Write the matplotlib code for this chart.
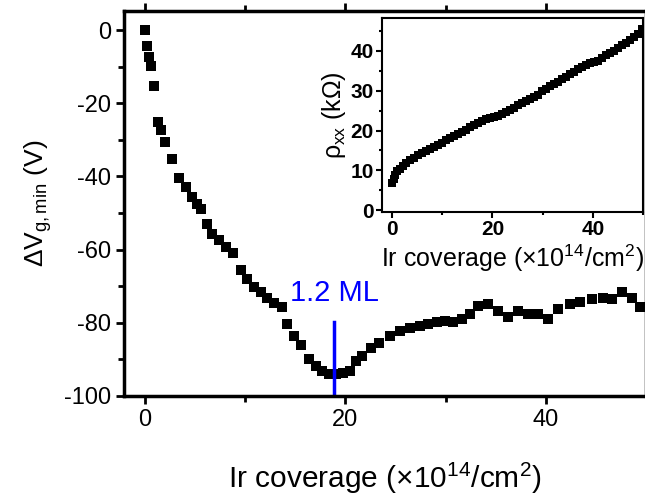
import matplotlib
matplotlib.use('Agg')
import matplotlib.pyplot as plt
from matplotlib.ticker import MultipleLocator

# main panel: gate voltage shift vs Ir coverage
coverage = [0, 0.17, 0.4, 0.6, 0.9, 1.3, 1.6, 2.0, 2.7, 3.4,
            4.1, 4.7, 5.2, 5.6, 6.2, 6.7, 7.4, 8.1, 8.8, 9.6,
            10.2, 10.9, 11.6, 12.2, 12.9, 13.7, 14.2, 14.9, 15.6, 16.4,
            17.1, 17.7, 18.4, 19.1, 19.8, 20.5, 21.1, 21.7, 22.6, 23.4,
            24.4, 25.4, 26.4, 27.4, 28.2, 29.1, 29.9, 30.7, 31.6, 32.4,
            33.2, 34.2, 35.2, 36.2, 37.2, 38.2, 39.2, 40.2, 41.2, 42.4,
            43.4, 44.6, 45.7, 46.6, 47.6, 48.6, 49.4]
dv = [0, -4.3, -7.3, -9.9, -15.3, -25.1, -27.4, -30.6, -35.2, -40.4,
      -42.9, -45.7, -47.5, -49.0, -53.0, -55.7, -57.5, -59.4, -61.0, -65.6,
      -68.0, -70.1, -71.7, -73.2, -74.7, -75.6, -80.4, -83.6, -86.0, -90.0,
      -91.8, -93.3, -93.9, -93.9, -93.6, -93.2, -90.4, -89.0, -86.8, -85.4,
      -83.6, -82.2, -81.5, -80.8, -80.4, -79.9, -79.5, -79.9, -79.0, -77.6,
      -75.3, -74.9, -76.7, -78.5, -76.7, -77.6, -77.6, -79.0, -76.2, -74.9,
      -74.4, -73.5, -73.1, -73.5, -71.7, -73.1, -75.8]

# inset: resistivity vs Ir coverage
ins_cov = [0.0, 0.3, 0.6, 1.0, 1.5, 2.1, 2.8, 3.5, 4.3, 5.1,
           5.9, 6.7, 7.5, 8.3, 9.1, 9.9, 10.7, 11.5, 12.3, 13.1,
           13.9, 14.7, 15.5, 16.3, 17.1, 17.9, 18.7, 19.5, 20.3, 21.1,
           21.9, 22.7, 23.5, 24.3, 25.1, 25.9, 26.7, 27.5, 28.3, 29.1,
           29.9, 30.7, 31.5, 32.3, 33.1, 33.9, 34.7, 35.5, 36.3, 37.1,
           37.9, 38.7, 39.5, 40.3, 41.1, 41.9, 42.7, 43.5, 44.3, 45.1,
           45.9, 46.7, 47.5, 48.3, 49.1, 49.9]
ins_rho = [6.7, 7.8, 8.9, 9.7, 10.4, 11.1, 11.9, 12.5, 13.2, 13.8,
           14.3, 14.8, 15.3, 15.9, 16.4, 16.9, 17.5, 18.0, 18.6, 19.1,
           19.7, 20.2, 20.8, 21.3, 21.8, 22.3, 22.8, 23.2, 23.5, 23.7,
           24.2, 24.7, 25.2, 25.7, 26.3, 26.9, 27.4, 27.9, 28.5, 29.0,
           29.9, 30.5, 31.1, 31.7, 32.3, 32.9, 33.5, 34.1, 34.8, 35.4,
           36.0, 36.6, 37.0, 37.2, 37.6, 38.2, 38.9, 39.4, 40.1, 40.8,
           41.4, 42.1, 42.8, 43.5, 44.3, 45.6]

ml_coverage = 18.9
ml_label = '1.2 ML'

plt.rcParams['font.family'] = ['Liberation Sans', 'DejaVu Sans']
plt.rcParams['axes.unicode_minus'] = False
plt.rcParams['mathtext.fontset'] = 'custom'
plt.rcParams['mathtext.rm'] = 'Liberation Sans'
plt.rcParams['mathtext.it'] = 'Liberation Sans'
plt.rcParams['mathtext.bf'] = 'Liberation Sans:bold'

xlabel = r'Ir coverage ($\times$10$^{\mathregular{14}}$/cm$^{\mathregular{2}}$)'

fig = plt.figure(figsize=(6.45, 4.99), dpi=100)
ax = fig.add_axes([124 / 645, 1 - 396 / 499, 522 / 645, 385 / 499])
ax.plot(coverage, dv, 's', color='black', markersize=7, markeredgewidth=0)
ax.set_xlim(-2.1, 50)
ax.set_ylim(-100, 5.2)
ax.xaxis.set_major_locator(MultipleLocator(20))
ax.xaxis.set_minor_locator(MultipleLocator(10))
ax.yaxis.set_major_locator(MultipleLocator(20))
ax.yaxis.set_minor_locator(MultipleLocator(10))
ax.tick_params(which='both', direction='out', width=2, labelsize=17, top=True)
ax.tick_params(which='major', length=6)
ax.tick_params(which='minor', length=4)
for s in ax.spines.values():
    s.set_linewidth(2.5)
ax.set_xlabel(xlabel, fontsize=21.5, labelpad=21)
ax.set_ylabel(r'$\Delta$V$_{\mathregular{g,min}}$ (V)', fontsize=19, labelpad=7)

ax.plot([ml_coverage, ml_coverage], [-79.7, -100], color='#0000ff', linewidth=2.5)
ax.text(ml_coverage, -75.8, ml_label, color='#0000ff', fontsize=21,
        ha='center', va='bottom')

ins = fig.add_axes([382 / 645, 1 - 212 / 499, 261 / 645, 194 / 499])
ins.plot(ins_cov, ins_rho, 's', color='black', markersize=6, markeredgewidth=0)
ins.set_xlim(-2, 50)
ins.set_ylim(-0.5, 48.3)
ins.xaxis.set_major_locator(MultipleLocator(20))
ins.xaxis.set_minor_locator(MultipleLocator(10))
ins.yaxis.set_major_locator(MultipleLocator(10))
ins.yaxis.set_minor_locator(MultipleLocator(5))
ins.tick_params(which='both', direction='out', width=1.5, labelsize=15, pad=2)
ins.tick_params(which='major', length=4)
ins.tick_params(which='minor', length=2.5)
for s in ins.spines.values():
    s.set_linewidth(1.5)
ins.set_xlabel(xlabel, fontsize=18, labelpad=2)
ins.set_ylabel(r'$\rho_{\mathregular{xx}}$ (k$\Omega$)', fontsize=18, labelpad=2)

# bold inset tick labels (ticks exist only after a draw)
fig.canvas.draw()
for lab in ins.get_xticklabels() + ins.get_yticklabels():
    lab.set_fontweight('bold')

fig.savefig('out.png', dpi=100)
